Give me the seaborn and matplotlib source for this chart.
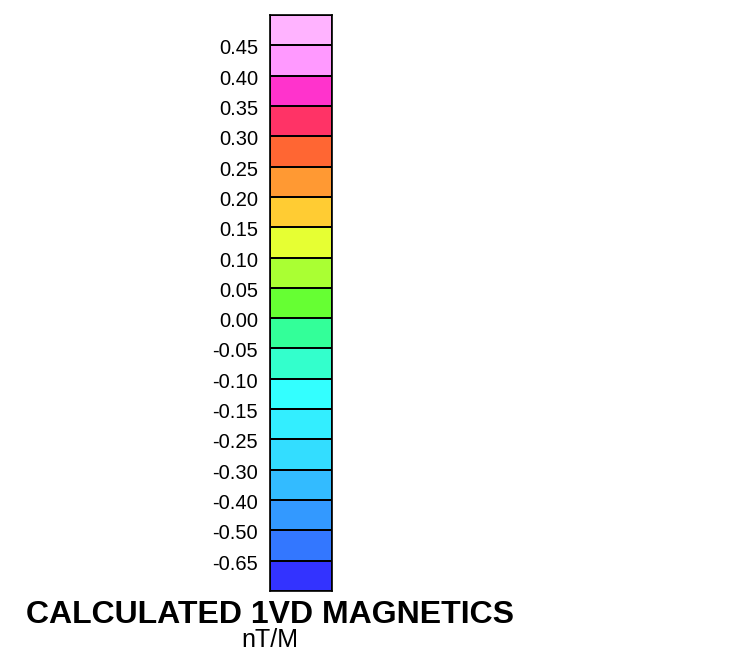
import numpy as np
import matplotlib
matplotlib.use("Agg")
import matplotlib.pyplot as plt
from matplotlib.colors import ListedColormap
from matplotlib.transforms import ScaledTranslation
import seaborn as sns

# colour classes, top of the bar to the bottom
class_colors = ["#FFB3FF", "#FF99FF", "#FF33CC", "#FF3366", "#FF6633", "#FF9933",
                "#FFCC33", "#E6FF33", "#AAFF33", "#66FF33", "#33FF99", "#33FFCC",
                "#33FFFF", "#33EEFF", "#33DDFF", "#33BBFF", "#3399FF", "#3377FF",
                "#3333FF"]
# break values between the classes
break_labels = ["0.45", "0.40", "0.35", "0.30", "0.25", "0.20", "0.15", "0.10",
                "0.05", "0.00", "-0.05", "-0.10", "-0.15", "-0.25", "-0.30",
                "-0.40", "-0.50", "-0.65"]
title = "CALCULATED 1VD MAGNETICS"
units = "nT/M"

sns.set_theme(style="white")
plt.rcParams['font.family'] = ['Liberation Sans', 'DejaVu Sans']

W, H = 729, 657
fig = plt.figure(figsize=(W / 100, H / 100), dpi=100)
ax = fig.add_axes([270 / W, 1 - 591 / H, 62 / W, 576 / H])

cells = np.arange(len(class_colors)).reshape(-1, 1)
sns.heatmap(cells, ax=ax, cmap=ListedColormap(class_colors),
            vmin=-0.5, vmax=len(class_colors) - 0.5, cbar=False,
            linewidths=1.2, linecolor="black")

ax.set_xticks([])
ax.set_yticks(np.arange(1, len(class_colors)))
ax.set_yticklabels(break_labels, rotation=0, fontsize=14.5, color="black")
ax.tick_params(axis="y", length=0, pad=8.5)
shift = ScaledTranslation(0, -0.035, fig.dpi_scale_trans)
for lab in ax.get_yticklabels():
    lab.set_transform(lab.get_transform() + shift)
for s in ax.spines.values():
    s.set_visible(True)
    s.set_color("black")
    s.set_linewidth(1.2)

fig.text(270 / W, 1 - 615 / H, title, ha="center", va="center",
         fontsize=23, fontweight="bold", color="black")
fig.text(270 / W, 1 - 640 / H, units, ha="center", va="center",
         fontsize=18, color="black")

fig.savefig("out.png", dpi=100)
